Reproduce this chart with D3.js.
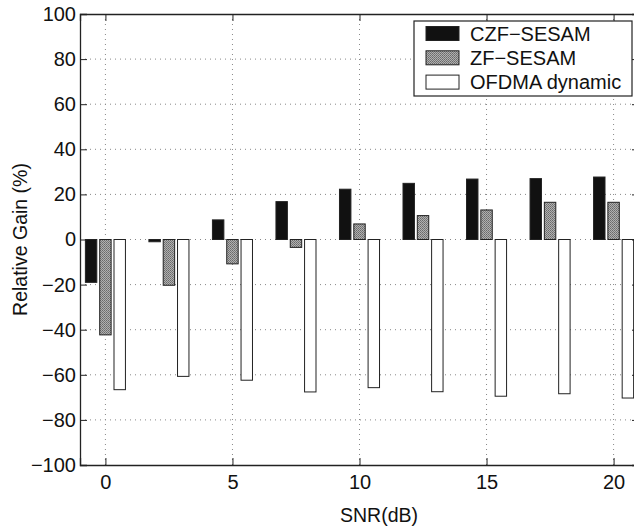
<!DOCTYPE html>
<html>
<head>
<meta charset="utf-8">
<script src="https://cdn.jsdelivr.net/npm/d3@7"></script>
<style>
  body { margin: 0; background: #fff; }
  svg { display: block; font-family: "Liberation Sans", Arial, sans-serif; }
</style>
</head>
<body>
<div id="my_dataviz"></div>
<script>
// data
var snr = [0, 2.5, 5, 7.5, 10, 12.5, 15, 17.5, 20];
var czf = [-19, -1, 8.7, 16.8, 22.3, 24.9, 26.8, 27.0, 27.7];
var zf = [-42.3, -20.3, -10.8, -3.5, 6.9, 10.6, 13.1, 16.5, 16.5];
var ofdma = [-66.6, -60.7, -62.4, -67.6, -65.7, -67.5, -69.5, -68.4, -70.3];
var seriesNames = ["CZF\u2212SESAM", "ZF\u2212SESAM", "OFDMA dynamic"];
var xTicks = [0, 5, 10, 15, 20];
var yTicks = [-100, -80, -60, -40, -20, 0, 20, 40, 60, 80, 100];

var W = 634, H = 526;
var margin = { top: 14, left: 80 },
    width = 559, height = 451;

var svg = d3.select("#my_dataviz")
    .append("svg")
    .attr("width", W)
    .attr("height", H);

// hatch-like fill for the grey series
var defs = svg.append("defs");
var pat = defs.append("pattern")
    .attr("id", "dots")
    .attr("patternUnits", "userSpaceOnUse")
    .attr("width", 2).attr("height", 2);
pat.append("rect").attr("width", 2).attr("height", 2).attr("fill", "#b0b0b0");
pat.append("rect").attr("width", 1).attr("height", 1).attr("fill", "#6a6a6a");
pat.append("rect").attr("x", 1).attr("y", 1).attr("width", 1).attr("height", 1).attr("fill", "#7a7a7a");

var fills = ["#111", "url(#dots)", "#fff"];

var g = svg.append("g")
    .attr("transform", "translate(" + margin.left + "," + margin.top + ")");

var x = d3.scaleLinear().domain([-1, 21]).range([0, width]);
var y = d3.scaleLinear().domain([-100, 100]).range([height, 0]);

// dotted grid
g.append("g").selectAll("line.hg")
    .data(yTicks.filter(function (d) { return d > -100 && d < 100; }))
    .enter().append("line")
    .attr("x1", 0).attr("x2", width)
    .attr("y1", function (d) { return y(d); })
    .attr("y2", function (d) { return y(d); })
    .attr("stroke", "#888").attr("stroke-width", 1)
    .attr("stroke-dasharray", "1,4");
g.append("g").selectAll("line.vg")
    .data(xTicks)
    .enter().append("line")
    .attr("y1", 0).attr("y2", height)
    .attr("x1", function (d) { return x(d); })
    .attr("x2", function (d) { return x(d); })
    .attr("stroke", "#888").attr("stroke-width", 1)
    .attr("stroke-dasharray", "1,4");

// bars
var barW = 0.45, offset = 0.563;
var all = [czf, zf, ofdma];
all.forEach(function (vals, si) {
    g.append("g").selectAll("rect")
        .data(vals)
        .enter().append("rect")
        .attr("x", function (d, i) { return x(snr[i] + (si - 1) * offset - barW / 2); })
        .attr("width", x(barW) - x(0))
        .attr("y", function (d) { return y(Math.max(0, d)); })
        .attr("height", function (d) { return Math.abs(y(d) - y(0)); })
        .attr("fill", fills[si])
        .attr("stroke", "#222")
        .attr("stroke-width", 1);
});

// axes with inward ticks
g.append("g")
    .attr("transform", "translate(0," + height + ")")
    .call(d3.axisBottom(x).tickValues(xTicks).tickSize(-7).tickPadding(10));
g.append("g")
    .call(d3.axisTop(x).tickValues(xTicks).tickSize(-7).tickFormat(""));
g.append("g")
    .call(d3.axisLeft(y).tickValues(yTicks).tickSize(-7).tickPadding(4)
        .tickFormat(function (d) { return d < 0 ? "\u2212" + Math.abs(d) : d; }));
g.append("g")
    .attr("transform", "translate(" + width + ",0)")
    .call(d3.axisRight(y).tickValues(yTicks).tickSize(-7).tickFormat(""));

g.selectAll(".domain").attr("stroke", "#222").attr("stroke-width", 1.3);
g.selectAll(".tick line").attr("stroke", "#222");
g.selectAll(".tick text").attr("font-size", 20).attr("fill", "#111")
    .attr("font-family", "'Liberation Sans', Arial, sans-serif");

// axis titles
svg.append("text")
    .attr("x", 379).attr("y", 522)
    .attr("text-anchor", "middle")
    .attr("font-size", 19.5).attr("fill", "#111")
    .text("SNR(dB)");
svg.append("text")
    .attr("transform", "translate(27," + (margin.top + y(0)) + ") rotate(-90)")
    .attr("text-anchor", "middle")
    .attr("font-size", 19.5).attr("fill", "#111")
    .text("Relative Gain (%)");

// legend
var lg = svg.append("g").attr("transform", "translate(414,21)");
lg.append("rect")
    .attr("width", 218).attr("height", 75)
    .attr("fill", "#fff").attr("stroke", "#222").attr("stroke-width", 1.2);
seriesNames.forEach(function (name, i) {
    var cy = 12.5 + i * 24.3;
    lg.append("rect")
        .attr("x", 12).attr("y", cy - 7)
        .attr("width", 33).attr("height", 14)
        .attr("fill", fills[i]).attr("stroke", "#222");
    lg.append("text")
        .attr("x", 56).attr("y", cy + 7)
        .attr("font-size", 20).attr("fill", "#111")
        .text(name);
});
</script>
</body>
</html>
